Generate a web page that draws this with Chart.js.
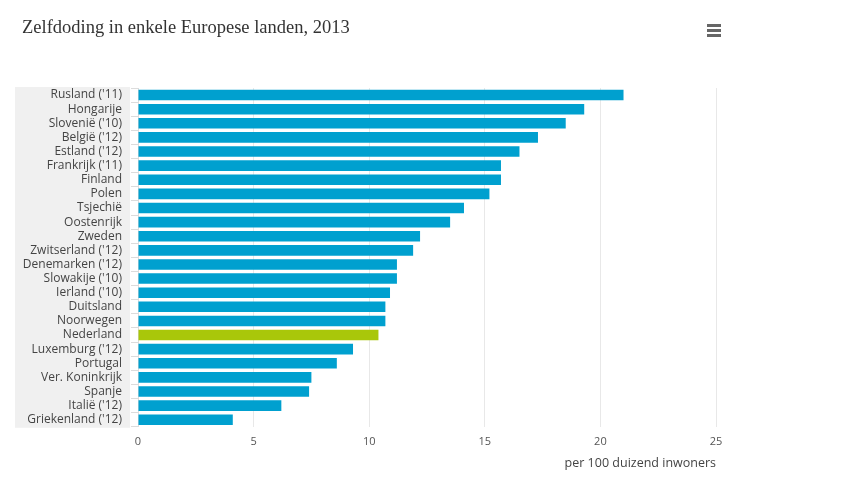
<!DOCTYPE html>
<html>
<head>
<meta charset="utf-8">
<script src="https://cdn.jsdelivr.net/npm/chart.js@4/dist/chart.umd.min.js"></script>
<style>
  body { margin: 0; background: #fff; }
  #wrap { position: relative; width: 864px; height: 486px; }
  #title {
    position: absolute; left: 22px; top: 17px;
    font-family: "Liberation Serif", "DejaVu Serif", serif;
    font-size: 18.5px; color: #333;
  }
  #menu { position: absolute; left: 707px; top: 24px; width: 14px; }
  #menu div { height: 3px; background: #666; margin-bottom: 2px; }
</style>
</head>
<body>
<div id="wrap">
  <div id="title">Zelfdoding in enkele Europese landen, 2013</div>
  <div id="menu"><div></div><div></div><div></div></div>
  <canvas id="myChart" width="864" height="486"></canvas>
</div>
<script>
var landen = ["Rusland ('11)", "Hongarije", "Slovenië ('10)", "België ('12)", "Estland ('12)",
  "Frankrijk ('11)", "Finland", "Polen", "Tsjechië", "Oostenrijk", "Zweden", "Zwitserland ('12)",
  "Denemarken ('12)", "Slowakije ('10)", "Ierland ('10)", "Duitsland", "Noorwegen", "Nederland",
  "Luxemburg ('12)", "Portugal", "Ver. Koninkrijk", "Spanje", "Italië ('12)", "Griekenland ('12)"];
var waarden = [21.0, 19.3, 18.5, 17.3, 16.5, 15.7, 15.7, 15.2, 14.1, 13.5, 12.2, 11.9,
  11.2, 11.2, 10.9, 10.7, 10.7, 10.4, 9.3, 8.6, 7.5, 7.4, 6.2, 4.1];
var xTicks = [0, 5, 10, 15, 20, 25];

// Nederland in het groen
var kleuren = landen.map(function (l) {
  return l === "Nederland" ? "#a9c70a" : "#00a0cf";
});

// grijs vlak achter de landnamen
var labelPanel = {
  id: "labelPanel",
  beforeDraw: function (chart) {
    var ctx = chart.ctx;
    var area = chart.chartArea;
    ctx.save();
    ctx.fillStyle = "#f0f0f0";
    ctx.fillRect(15, area.top - 1, area.left - 23, area.bottom - area.top + 2);
    ctx.restore();
  }
};

new Chart(document.getElementById("myChart").getContext("2d"), {
  type: "bar",
  data: {
    labels: landen,
    datasets: [{
      data: waarden,
      backgroundColor: kleuren,
      categoryPercentage: 1,
      barPercentage: 0.75
    }]
  },
  plugins: [labelPanel],
  options: {
    indexAxis: "y",
    responsive: false,
    animation: false,
    layout: { padding: { left: 15, right: 148, top: 88, bottom: 15 } },
    plugins: { legend: { display: false }, tooltip: { enabled: false } },
    scales: {
      x: {
        min: 0,
        max: 25,
        afterBuildTicks: function (scale) {
          scale.ticks = xTicks.map(function (v) { return { value: v }; });
        },
        grid: { color: "#e8e8e8", drawTicks: false },
        border: { display: false },
        ticks: { color: "#555", font: { family: "Open Sans", size: 11 }, padding: 8 },
        title: {
          display: true,
          text: "per 100 duizend inwoners",
          align: "end",
          color: "#444",
          font: { family: "Open Sans", size: 12.5 },
          padding: { top: 0, bottom: 0 }
        }
      },
      y: {
        afterFit: function (scale) { scale.width = 123; },
        grid: { drawOnChartArea: false, color: "#dcdcdc", tickLength: 7 },
        border: { color: "#dcdcdc" },
        ticks: { color: "#444", font: { family: "Open Sans", size: 12 }, padding: 9, autoSkip: false }
      }
    }
  }
});
</script>
</body>
</html>
